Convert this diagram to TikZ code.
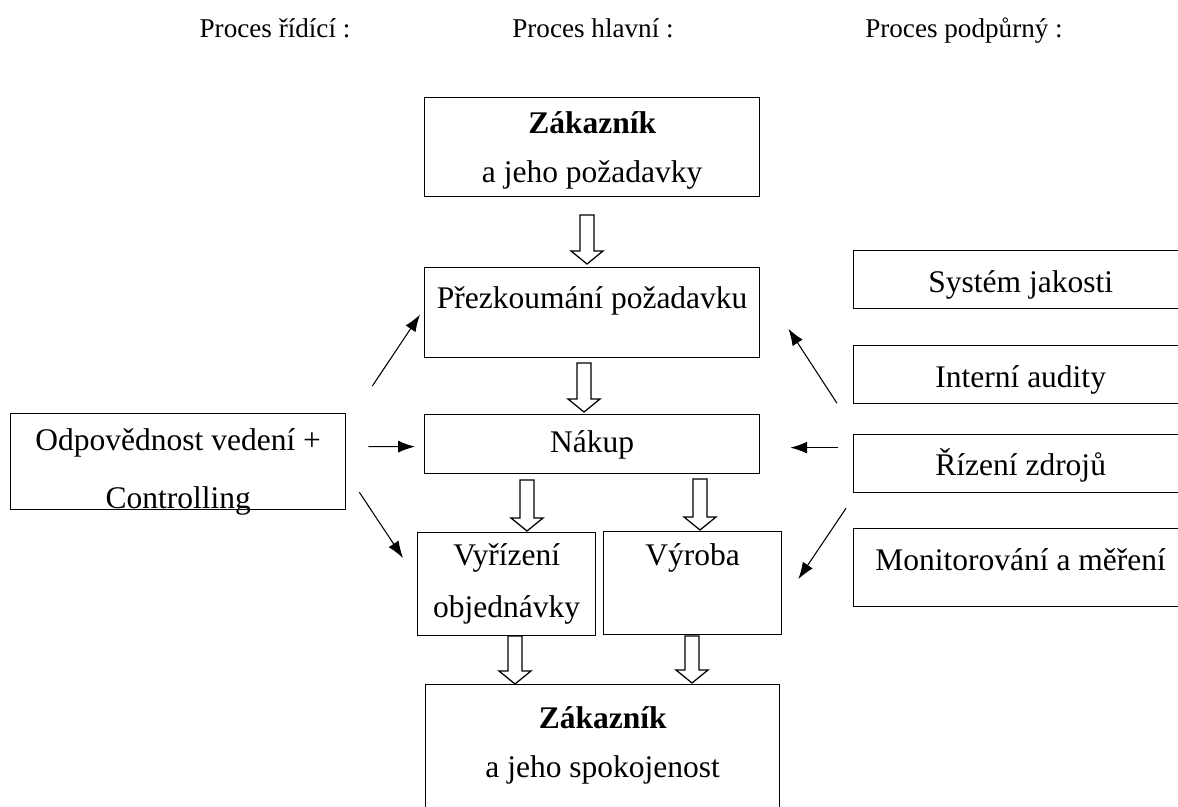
\documentclass[tikz,border=0pt]{standalone}
\usepackage{fontspec}
\setmainfont{Liberation Serif}
\usepackage{tikz}
\usetikzlibrary{arrows.meta,positioning,calc}
\renewcommand{\arraystretch}{1.29}
\newcommand{\boxfont}{\fontsize{22.4}{27}\selectfont}
\newcommand{\headfont}{\fontsize{19.3}{23}\selectfont}

\begin{document}
\begin{tikzpicture}[
  x=0.025cm,y=-0.025cm,
  box/.style={draw,line width=0.9pt,inner sep=0pt,anchor=north west,font=\boxfont},
  head/.style={anchor=base,inner sep=0pt,font=\headfont},
  hollow/.style={draw,line width=0.9pt,fill=white},
  ->,>={Latex[length=12pt,width=8.5pt]},line width=0.75pt]
  \useasboundingbox (0,0) rectangle (1178,807);
  \clip (0,0) rectangle (1178,807);
  % headings
  \node[head](hr) at(275,38){Proces řídící :};
  \node[head](hh) at(593,38){Proces hlavní :};
  \node[head](hp) at(964,38){Proces podpůrný :};
  % main process
  \node[box,minimum width=8.375cm,text height=0.9cm,text depth=1.575cm](zak1) at(424,97)
    {\begin{tabular}[t]{@{}c@{}}\textbf{Zákazník}\\a jeho požadavky\end{tabular}};
  \node[box,minimum width=8.375cm,text height=1.025cm,text depth=1.225cm](prez) at(424,267){Přezkoumání požadavku};
  \node[box,minimum width=8.375cm,text height=0.95cm,text depth=0.525cm](nak) at(424,414){Nákup};
  \node[box,minimum width=4.45cm,text height=0.825cm,text depth=1.75cm](vyr) at(417,532)
    {\begin{tabular}[t]{@{}c@{}}Vyřízení\\[2pt]objednávky\end{tabular}};
  \node[box,minimum width=4.45cm,text height=0.85cm,text depth=1.725cm](vyroba) at(603,531){Výroba};
  \node[box,minimum width=8.85cm,text height=1.1cm,text depth=2.55cm](zak2) at(425,684)
    {\begin{tabular}[t]{@{}c@{}}\textbf{Zákazník}\\a jeho spokojenost\end{tabular}};
  % control process
  \node[box,minimum width=8.375cm,text height=0.925cm,text depth=1.475cm](odp) at(10,413)
    {\begin{tabular}[t]{@{}c@{}}Odpovědnost vedení +\\[6pt]Controlling\end{tabular}};
  % support processes
  \node[box,minimum width=8.35cm,text height=1.05cm,text depth=0.4cm](sys) at(853,250){Systém jakosti};
  \node[box,minimum width=8.35cm,text height=1.05cm,text depth=0.4cm](aud) at(853,345){Interní audity};
  \node[box,minimum width=8.35cm,text height=1.025cm,text depth=0.425cm](riz) at(853,434){Řízení zdrojů};
  \node[box,minimum width=8.35cm,text height=1.05cm,text depth=0.9cm](mon) at(853,528){Monitorování a měření};
  % block arrows
  \foreach \x/\t/\e in {587/215/264,584/363/412,527/480/531,700/479/530,515/636/684,692/636/683}
    \draw[hollow,-](\x-7,\t)--(\x+7,\t)--(\x+7,\e-13)--(\x+16,\e-13)--(\x,\e)
      --(\x-16,\e-13)--(\x-7,\e-13)--cycle;
  % thin arrows
  \draw($(odp.north east)+(26,-27)$)--($(prez.west)+(-4,2)$);
  \draw($(odp.east)+(22,-15)$)--($(nak.west)+(-9,2.5)$);
  \draw($(odp.south east)+(13,-18)$)--($(vyr.north west)+(-14,26)$);
  \draw($(aud.south west)+(-16,-1)$)--($(prez.east)+(28,16)$);
  \draw($(riz.west)+(-15,-16)$)--($(nak.east)+(30,3.5)$);
  \draw($(riz.south west)+(-7,15)$)--($(vyroba.east)+(16,-4)$);
\end{tikzpicture}
\end{document}
